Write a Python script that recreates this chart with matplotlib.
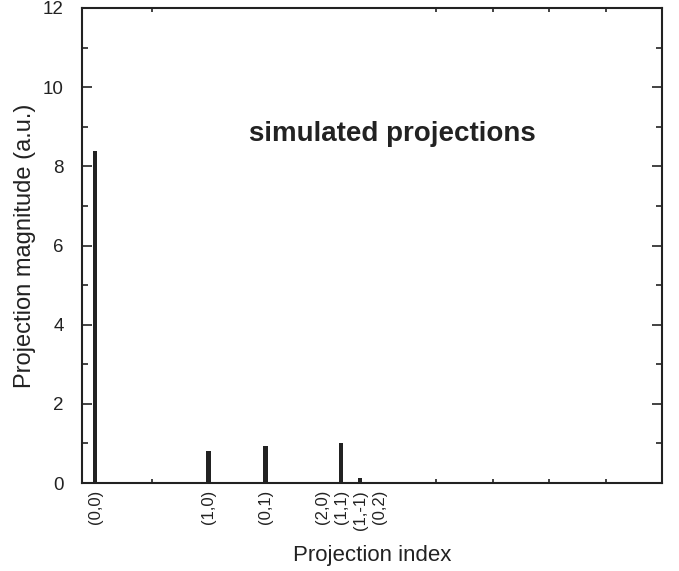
import matplotlib
matplotlib.use("Agg")
import matplotlib.pyplot as plt
from matplotlib.ticker import MultipleLocator

plt.rcParams['font.family'] = ['Liberation Sans', 'DejaVu Sans']

# Data
index_labels = ["(0,0)", "(1,0)", "(0,1)", "(2,0)", "(1,1)", "(1,-1)", "(0,2)"]
index_positions = [0, 2, 3, 4, 4.333, 4.667, 5]
magnitudes = [8.38, 0.82, 0.94, 0.0, 1.02, 0.14, 0.0]

fig = plt.figure(figsize=(6.79, 5.71), dpi=100)
ax = fig.add_axes([0.1208, 0.154, 0.854, 0.832])

ax.bar(index_positions, magnitudes, width=0.08, color='#222222')

ax.set_xlim(-0.23, 9.98)
ax.set_ylim(0, 12)

ax.set_xticks(index_positions)
ax.set_xticklabels(index_labels, rotation=90, fontsize=12)
ax.xaxis.set_minor_locator(MultipleLocator(1))
ax.set_yticks(range(0, 13, 2))
ax.yaxis.set_minor_locator(MultipleLocator(1))

ax.tick_params(axis='both', which='both', direction='in', top=True, right=True,
               color='#222222', width=1.2)
ax.tick_params(axis='y', which='major', length=7, labelsize=13.5, pad=13,
               labelcolor='#222222')
ax.tick_params(axis='y', which='minor', length=4)
ax.tick_params(axis='x', which='major', length=0, pad=5, labelcolor='#222222')
ax.tick_params(axis='x', which='minor', length=3)

for s in ax.spines.values():
    s.set_linewidth(1.5)
    s.set_color('#222222')

ax.set_xlabel("Projection index", fontsize=16, labelpad=11, color='#222222')
ax.set_ylabel("Projection magnitude (a.u.)", fontsize=17, labelpad=5, color='#222222')

ax.text(0.536, 0.735, "simulated projections", transform=ax.transAxes,
        fontsize=20, fontweight='bold', ha='center', va='center', color='#222222')

fig.savefig("out.png", dpi=100)
